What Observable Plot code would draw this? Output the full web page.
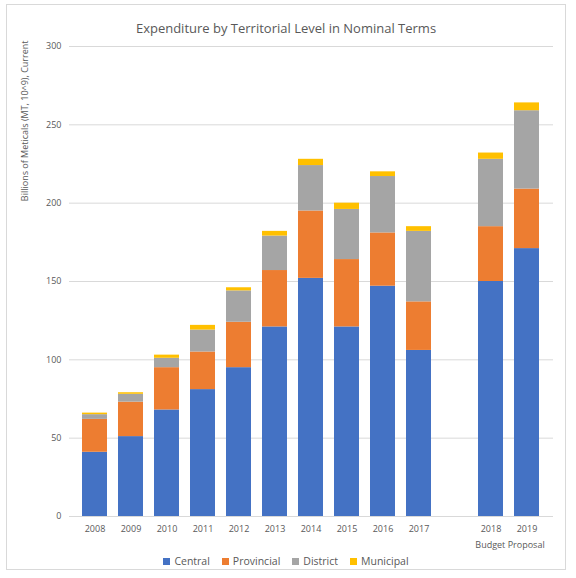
<!DOCTYPE html>
<html><head>
<script src="https://cdn.jsdelivr.net/npm/d3@7"></script>
<script src="https://cdn.jsdelivr.net/npm/@observablehq/plot@0.6"></script>
<style>
body{margin:0;font-family:"Open Sans",sans-serif;background:#fff}
#wrap{width:560px;height:566px;margin:4px 6px;border:1px solid #d9d9d9;box-sizing:border-box;position:relative}
h1{font-size:13px;font-weight:normal;color:#595959;text-align:center;margin:14px 0 0 0}
#legend{display:flex;justify-content:center;gap:12px;font-size:10.5px;color:#595959;margin-top:2px}
#legend span i{display:inline-block;width:7px;height:7px;margin-right:4px}
</style></head><body>
<div id="wrap">
<h1>Expenditure by Territorial Level in Nominal Terms</h1>
<div id="chart"></div>
<div id="legend"></div>
</div>
<script>
const years = ["2008","2009","2010","2011","2012","2013","2014","2015","2016","2017","","2018","2019"]
const central    = [41,51,68,81,95,121,152,121,147,106,null,150,171]
const provincial = [21,22,27,24,29,36,43,43,34,31,null,35,38]
const district   = [3,5,6,14,20,22,29,32,36,45,null,43,50]
const municipal  = [1,1,2,3,2,3,4,4,3,3,null,4,5]
const levels = ["Central","Provincial","District","Municipal"]
const colors = ["#4472C4","#ED7D31","#A5A5A5","#FFC000"]
const series = [central, provincial, district, municipal]

const data = []
years.forEach((y, i) => {
  if (y === "") return
  levels.forEach((l, j) => data.push({year: y, level: l, value: series[j][i]}))
})

const chart = Plot.plot({
  width: 558, height: 515,
  marginLeft: 62, marginRight: 12, marginTop: 9, marginBottom: 36,
  style: {fontFamily: "Open Sans", fontSize: "9px", color: "#595959"},
  x: {domain: years, padding: 0.3, label: null, tickSize: 0},
  y: {domain: [0, 300], ticks: d3.range(0, 301, 50), tickSize: 0, tickPadding: 8, label: null},
  color: {domain: levels, range: colors},
  marks: [
    Plot.gridY(d3.range(0, 301, 50), {stroke: "#d9d9d9", strokeOpacity: 1}),
    Plot.barY(data, {x: "year", y: "value", fill: "level", order: levels}),
    Plot.text(["Billions of Meticals (MT, 10^9), Current"], {frameAnchor: "top-left", rotate: -90, textAnchor: "end",
      dx: -48, dy: -6, fontSize: 9, fill: "#595959"}),
    Plot.text(["Budget Proposal"], {x: () => "2018", y: 0, dx: 19, dy: 29, fontSize: 9, fill: "#595959"})
  ]
})
d3.select("#chart").append(() => chart)

const lg = d3.select("#legend")
levels.forEach((l, j) => lg.append("span").html(`<i style="background:${colors[j]}"></i>${l}`))
</script>
</body></html>
